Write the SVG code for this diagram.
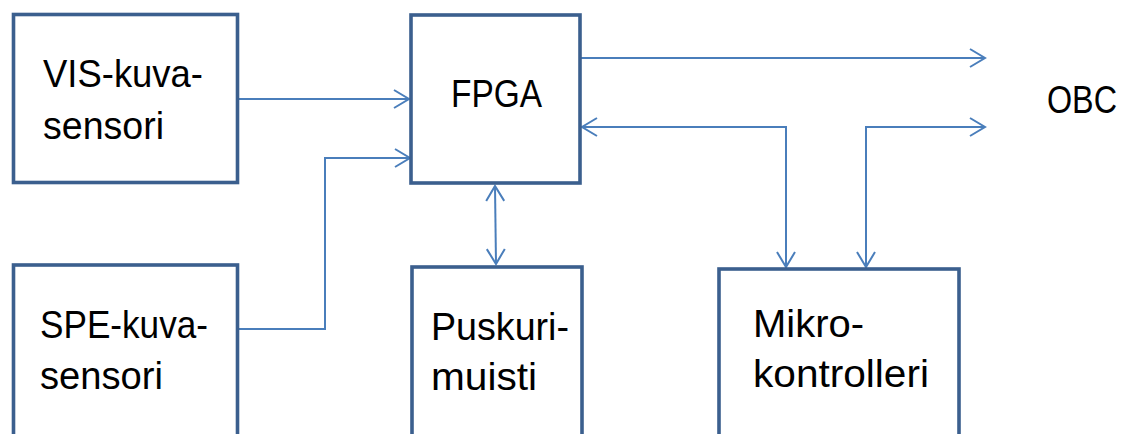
<svg xmlns="http://www.w3.org/2000/svg" width="1130" height="434" viewBox="0 0 1130 434">
<style>
.box{fill:#ffffff;stroke:#3b5f8e;stroke-width:3.6}
.t{font-family:"Liberation Sans",Arial,sans-serif;font-size:38.5px;fill:#000000}
.c{fill:none;stroke:#4a7ebb;stroke-width:2}
</style>
<defs>
<marker id="ah" markerUnits="userSpaceOnUse" viewBox="-18 -11 20 22" refX="0" refY="0" markerWidth="20" markerHeight="22" orient="auto-start-reverse">
<path d="M-15,-9 L0,0 L-15,9" fill="none" stroke="#4a7ebb" stroke-width="2"/>
</marker>
</defs>
<rect width="1130" height="434" fill="#ffffff"/>
<g id="connectors">
<path class="c" d="M237,99 H409" marker-end="url(#ah)"/>
<path class="c" d="M237,329 H325 V158 H410" marker-end="url(#ah)"/>
<path class="c" d="M580,58 H985" marker-end="url(#ah)"/>
<path class="c" d="M582,127 H786 V267" marker-start="url(#ah)" marker-end="url(#ah)"/>
<path class="c" d="M866,267 V127 H985" marker-start="url(#ah)" marker-end="url(#ah)"/>
<path class="c" d="M495,186 L496,264" marker-start="url(#ah)" marker-end="url(#ah)"/>
</g>
<g id="vis">
<rect class="box" x="13.5" y="14.5" width="224" height="168"/>
<text class="t" x="43" y="87" textLength="160" lengthAdjust="spacingAndGlyphs">VIS-kuva-</text>
<text class="t" x="43" y="139" textLength="121" lengthAdjust="spacingAndGlyphs">sensori</text>
</g>
<g id="fpga">
<rect class="box" x="411" y="15" width="169" height="168"/>
<text class="t" x="451" y="107" textLength="91" lengthAdjust="spacingAndGlyphs">FPGA</text>
</g>
<g id="obc">
<text class="t" x="1047" y="113" textLength="70" lengthAdjust="spacingAndGlyphs">OBC</text>
</g>
<g id="spe">
<rect class="box" x="13.5" y="265" width="224" height="190"/>
<text class="t" x="40" y="338" textLength="168" lengthAdjust="spacingAndGlyphs">SPE-kuva-</text>
<text class="t" x="40" y="389" textLength="123" lengthAdjust="spacingAndGlyphs">sensori</text>
</g>
<g id="puskuri">
<rect class="box" x="412" y="267" width="170" height="190"/>
<text class="t" x="431" y="340" textLength="138" lengthAdjust="spacingAndGlyphs">Puskuri-</text>
<text class="t" x="431" y="390" textLength="106" lengthAdjust="spacingAndGlyphs">muisti</text>
</g>
<g id="mikro">
<rect class="box" x="719" y="269" width="240" height="190"/>
<text class="t" x="753" y="337" textLength="111" lengthAdjust="spacingAndGlyphs">Mikro-</text>
<text class="t" x="753" y="387" textLength="176" lengthAdjust="spacingAndGlyphs">kontrolleri</text>
</g>
</svg>
